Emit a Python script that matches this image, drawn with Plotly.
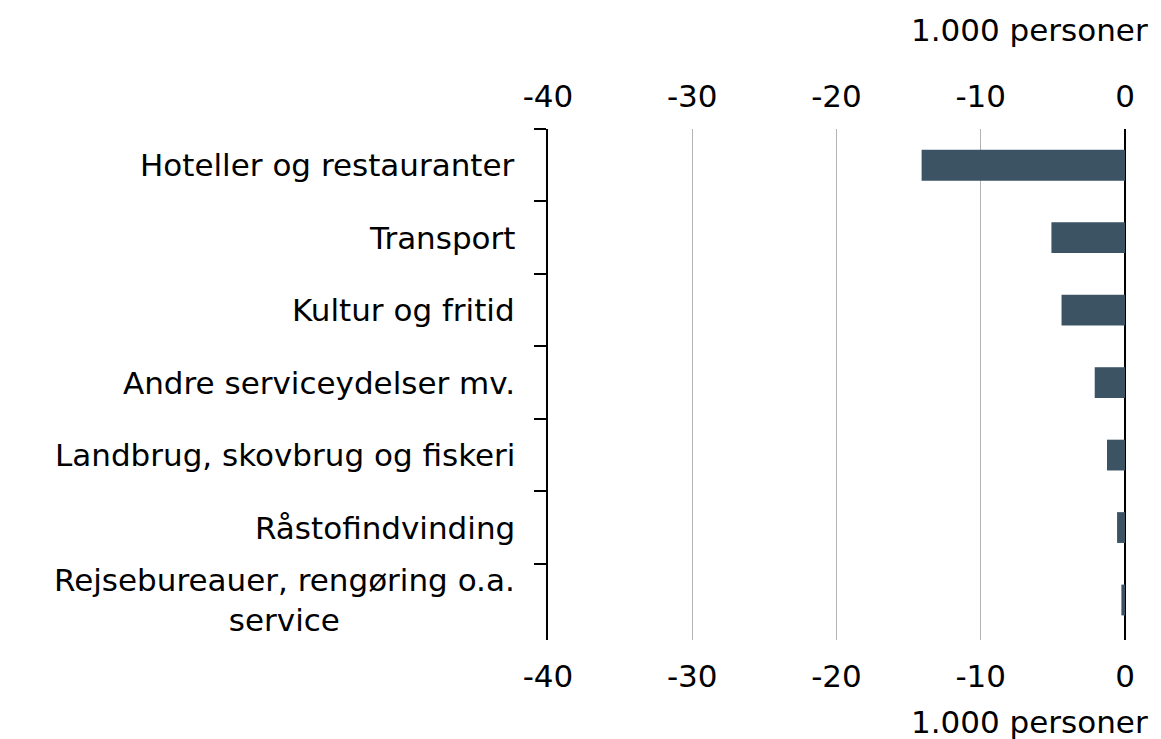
import plotly.graph_objects as go

categories = [
    "Hoteller og restauranter",
    "Transport",
    "Kultur og fritid",
    "Andre serviceydelser mv.",
    "Landbrug, skovbrug og fiskeri",
    "Råstofindvinding",
    "Rejsebureauer, rengøring o.a.<br>service",
]
values = [-14.1, -5.1, -4.4, -2.1, -1.25, -0.55, -0.25]
tick_vals = [-40, -30, -20, -10, 0]
tick_text = ["-40", "-30", "-20", "-10", "0"]
unit_label = "1.000 personer"

FONT = "DejaVu Sans"
FS = 31
BAR_COLOR = "#3c5364"

fig = go.Figure()
fig.add_trace(go.Bar(
    x=values, y=categories, orientation="h",
    marker=dict(color=BAR_COLOR, line=dict(width=0)),
    showlegend=False, hoverinfo="x+y",
))
fig.add_trace(go.Bar(
    x=values, y=categories, orientation="h", xaxis="x2",
    marker=dict(color="rgba(0,0,0,0)", line=dict(width=0)),
    showlegend=False, hoverinfo="skip",
))

axis_common = dict(
    range=[-40, 0], tickvals=tick_vals, ticktext=tick_text,
    tickfont=dict(family=FONT, size=FS, color="black"),
    showline=False, ticks="", fixedrange=True,
)
fig.update_layout(
    width=1153, height=731,
    margin=dict(l=540, r=36, t=121, b=99),
    paper_bgcolor="white", plot_bgcolor="white",
    bargap=0.575,
    font=dict(family=FONT, size=FS, color="black"),
    xaxis=dict(**axis_common, side="bottom",
               showgrid=True, gridcolor="#b3b3b3", gridwidth=1,
               zeroline=True, zerolinecolor="black", zerolinewidth=2,
               ticklabelstandoff=15),
    xaxis2=dict(**axis_common, side="top", overlaying="x", matches="x",
                showgrid=False, zeroline=False, ticklabelstandoff=15),
    yaxis=dict(
        categoryorder="array", categoryarray=categories, autorange="reversed",
        showticklabels=False, showgrid=False, zeroline=False,
        showline=True, linecolor="black", linewidth=1.5,
        ticks="outside", ticklen=12, tickwidth=1.5, tickcolor="black",
        tickson="boundaries",
    ),
)

for cat in categories:
    fig.add_annotation(
        x=0, xref="paper", y=cat, yref="y",
        xanchor="right", yanchor="middle", xshift=-31,
        text=cat, showarrow=False, align="center",
        font=dict(family=FONT, size=FS, color="black"),
    )

fig.add_annotation(x=1, xref="paper", y=1, yref="paper", xanchor="right",
                   yanchor="middle", xshift=25, yshift=129 - 30,
                   text=unit_label, showarrow=False,
                   font=dict(family=FONT, size=FS, color="black"))
fig.add_annotation(x=1, xref="paper", y=0, yref="paper", xanchor="right",
                   yanchor="middle", xshift=25, yshift=-(722 - 640),
                   text=unit_label, showarrow=False,
                   font=dict(family=FONT, size=FS, color="black"))

fig.write_html("out.html")
